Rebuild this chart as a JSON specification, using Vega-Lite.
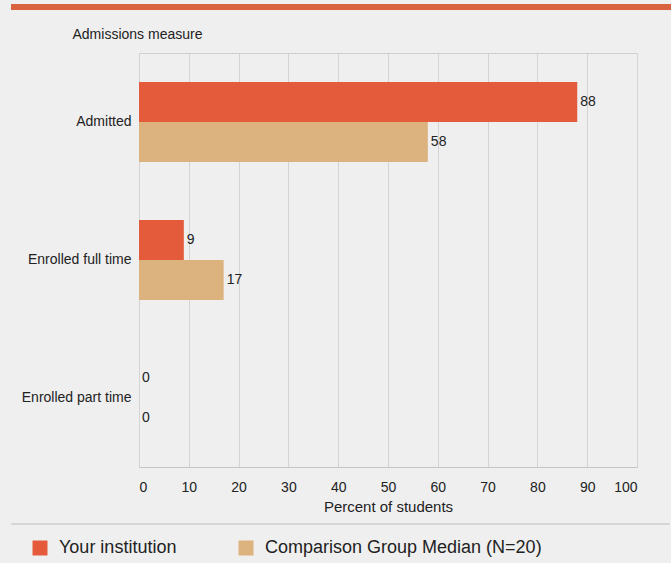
{
  "$schema": "https://vega.github.io/schema/vega-lite/v6.json",
  "background": "#efefef",
  "padding": {"left": 10, "top": 4, "right": 0, "bottom": 8},
  "config": {"font": "Liberation Sans", "view": {"stroke": null}},
  "datasets": {
    "d": [
      {"measure": "Admitted", "group": "Your institution", "value": 88},
      {"measure": "Admitted", "group": "Comparison Group Median (N=20)", "value": 58},
      {"measure": "Enrolled full time", "group": "Your institution", "value": 9},
      {"measure": "Enrolled full time", "group": "Comparison Group Median (N=20)", "value": 17},
      {"measure": "Enrolled part time", "group": "Your institution", "value": 0},
      {"measure": "Enrolled part time", "group": "Comparison Group Median (N=20)", "value": 0}
    ]
  },
  "spacing": 16,
  "vconcat": [
    {
      "width": 661,
      "height": 6,
      "view": {"fill": "#d9623f", "stroke": null},
      "data": {"values": [{"a": 1}]},
      "mark": {"type": "point", "opacity": 0, "size": 0},
      "encoding": {}
    },
    {
      "spacing": 7,
      "resolve": {"scale": {"color": "independent"}, "legend": {"color": "independent"}},
      "vconcat": [
        {
          "spacing": 8,
          "hconcat": [
            {
              "width": 1,
              "height": 1,
              "data": {"values": [{"a": 1}]},
              "mark": {"type": "point", "opacity": 0, "size": 0},
              "encoding": {}
            },
            {
              "width": 498,
              "height": 414,
              "data": {"name": "d"},
              "view": {"stroke": "#cfcfcf"},
              "encoding": {
                "y": {
                  "field": "measure",
                  "type": "nominal",
                  "sort": ["Admitted", "Enrolled full time", "Enrolled part time"],
                  "scale": {"paddingInner": 0.42, "paddingOuter": 0.21},
                  "axis": {
                    "title": "Admissions measure",
                    "titleAngle": 0,
                    "titleAlign": "left",
                    "titleBaseline": "middle",
                    "titleX": -67,
                    "titleY": -19,
                    "titleFontSize": 14,
                    "titleFontWeight": "normal",
                    "titleColor": "#222222",
                    "labelFontSize": 14,
                    "labelColor": "#222222",
                    "labelPadding": 8,
                    "ticks": false,
                    "domain": false
                  }
                },
                "yOffset": {
                  "field": "group",
                  "type": "nominal",
                  "sort": ["Your institution", "Comparison Group Median (N=20)"],
                  "scale": {"paddingInner": 0, "paddingOuter": 0}
                },
                "x": {
                  "field": "value",
                  "type": "quantitative",
                  "scale": {"domain": [0, 100]},
                  "axis": {
                    "values": [0, 10, 20, 30, 40, 50, 60, 70, 80, 90, 100],
                    "title": "Percent of students",
                    "grid": true,
                    "gridColor": "#d4d4d4",
                    "ticks": false,
                    "domainColor": "#c4c4c4",
                    "labelFontSize": 14,
                    "labelColor": "#222222",
                    "labelPadding": 13,
                    "titleFontSize": 15,
                    "titleFontWeight": "normal",
                    "titleColor": "#222222",
                    "titlePadding": 5
                  }
                }
              },
              "layer": [
                {
                  "mark": {"type": "bar"},
                  "encoding": {
                    "color": {
                      "field": "group",
                      "type": "nominal",
                      "sort": ["Your institution", "Comparison Group Median (N=20)"],
                      "scale": {"domain": ["Your institution", "Comparison Group Median (N=20)"], "range": ["#e35b3a", "#dcb27f"]},
                      "legend": null
                    }
                  }
                },
                {
                  "mark": {"type": "text", "align": "left", "baseline": "middle", "dx": 3, "fontSize": 14, "color": "#222222"},
                  "encoding": {"text": {"field": "value", "type": "quantitative"}}
                }
              ]
            }
          ]
        },
        {
          "width": 658,
          "height": 1,
          "view": {"stroke": "#d6d6d6", "fill": null},
          "data": {"name": "d"},
          "mark": {"type": "square", "opacity": 0, "size": 0},
          "encoding": {
            "color": {
              "field": "group",
              "type": "nominal",
              "sort": ["Your institution", "Comparison Group Median (N=20)"],
              "scale": {"domain": ["Your institution", "Comparison Group Median (N=20)"], "range": ["#e35b3a", "#dcb27f"]},
              "legend": {
                "orient": "none",
                "legendX": 20,
                "legendY": 16,
                "direction": "horizontal",
                "title": null,
                "symbolType": "square",
                "symbolSize": 225,
                "symbolOpacity": 1,
                "symbolStrokeWidth": 0,
                "labelFontSize": 18,
                "labelColor": "#222222",
                "labelLimit": 400,
                "labelOffset": 10,
                "columnPadding": 60
              }
            }
          }
        }
      ]
    }
  ]
}
